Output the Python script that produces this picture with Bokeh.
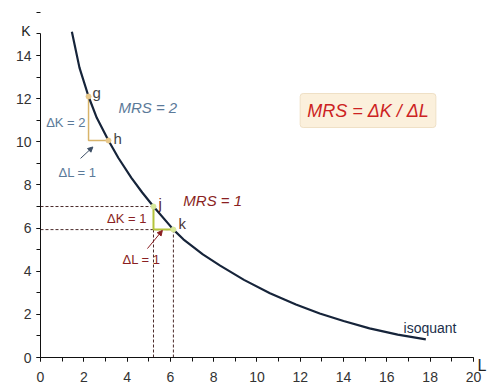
from bokeh.plotting import figure
from bokeh.models import Range1d, Label, Arrow, NormalHead, FixedTicker
from bokeh.embed import file_html
from bokeh.resources import INLINE

# isoquant curve
L_curve = [1.45, 1.8, 2.22, 2.6, 3.14, 3.6, 4.2, 4.7, 5.22, 6.14, 6.6, 7.5, 8.3, 9.4, 10.6, 11.8, 12.9, 14.0, 15.2, 16.5, 17.8]
K_curve = [15.1, 13.44, 12.1, 11.11, 10.06, 9.25, 8.33, 7.65, 7.0, 5.93, 5.48, 4.78, 4.26, 3.6, 2.98, 2.46, 2.04, 1.69, 1.35, 1.06, 0.84]

# named points
pt_names = ["g", "h", "j", "k"]
pt_L = [2.22, 3.14, 5.22, 6.14]
pt_K = [12.1, 10.06, 7.0, 5.93]

x_ticks = [0, 2, 4, 6, 8, 10, 12, 14, 16, 18, 20]
y_ticks = [0, 2, 4, 6, 8, 10, 12, 14]
minor = list(range(0, 21))

FONT = "Liberation Sans"

p = figure(width=503, height=389, output_backend="svg", toolbar_location=None,
           x_range=Range1d(-1.57, 21.25), y_range=Range1d(-1.344, 16.18),
           min_border_left=6, min_border_right=3, min_border_top=8, min_border_bottom=3)
p.outline_line_color = None
p.xgrid.visible = False
p.ygrid.visible = False
p.xaxis.fixed_location = 0
p.yaxis.fixed_location = 0
p.xaxis.bounds = (0, 20)
p.yaxis.bounds = (0, 15)

for ax, ticks in ((p.xaxis[0], x_ticks), (p.yaxis[0], y_ticks)):
    ax.ticker = FixedTicker(ticks=ticks, minor_ticks=minor)
    ax.axis_line_color = "#111111"
    ax.axis_line_width = 1
    ax.major_tick_line_color = "#111111"
    ax.minor_tick_line_color = "#111111"
    ax.major_tick_in = 0
    ax.major_tick_out = 4
    ax.minor_tick_in = 0
    ax.minor_tick_out = 4
    ax.major_label_text_font = FONT
    ax.major_label_text_font_size = "14px"
    ax.major_label_text_color = "#333333"
p.xaxis.major_label_standoff = 10
p.yaxis.major_label_standoff = 5

# dashed guide lines
dash_col = "#4a2a2a"
jL, jK = pt_L[2], pt_K[2]
kL, kK = pt_L[3], pt_K[3]
p.line([0, jL], [jK, jK], line_dash="3 2", line_color=dash_col, line_width=1)
p.line([0, kL], [kK, kK], line_dash="3 2", line_color=dash_col, line_width=1)
p.line([jL, jL], [0, jK], line_dash="3 2", line_color=dash_col, line_width=1)
p.line([kL, kL], [0, kK], line_dash="3 2", line_color=dash_col, line_width=1)

# triangles
gL, gK = pt_L[0], pt_K[0]
hL, hK = pt_L[1], pt_K[1]
p.line([gL, gL, hL], [gK, hK, hK], line_color="#d8b46a", line_width=1.5)
p.line([jL, jL, kL], [jK, kK, kK], line_color="#b5c43c", line_width=2)

# isoquant
p.line(L_curve, K_curve, line_color="#16243a", line_width=2.2, line_join="round")

p.scatter(pt_L[:2], pt_K[:2], size=5, color="#e8c88a")
p.scatter(pt_L[2:], pt_K[2:], size=5, color="#d8e89a")

def lab(x, y, text, color, size="14px", style="normal", align="left", xo=0, yo=0, **kw):
    l = Label(x=x, y=y, text=text, text_color=color, text_font=FONT,
              text_font_size=size, text_font_style=style, text_align=align,
              text_baseline="middle", x_offset=xo, y_offset=yo, **kw)
    p.add_layout(l)
    return l

# point labels
offs = [(4, 4), (5, 2), (5, 3), (5, 6)]
pt_colors = ["#444444", "#444444", "#5a1e1e", "#4a3434"]
for n, x, y, (xo, yo), c in zip(pt_names, pt_L, pt_K, offs, pt_colors):
    lab(x, y, n, c, size="15px", xo=xo, yo=yo)

blue = "#5b7a99"
red = "#8a1f22"

lab(3.6, 11.59, "MRS = 2", blue, size="15px", style="italic")
lab(6.6, 7.28, "MRS = 1", red, size="15px", style="italic")
lab(gL, 10.9, "\u0394K = 2", blue, size="13px", align="right", xo=-3)
lab(0.83, 8.58, "\u0394L = 1", blue, size="13px")
lab(jL, (jK + kK) / 2, "\u0394K = 1", red, size="13px", align="right", xo=-7)
lab(3.79, 4.54, "\u0394L = 1", red, size="13px")
lab(16.77, 1.39, "isoquant", "#1c2f4a", size="14px")

# formula box
lab(15.13, 11.45, "MRS = \u0394K / \u0394L", "#cc2222", size="18px", style="italic", align="center",
    background_fill_color="#fbf0dc", border_line_color="#efe0c6", border_line_width=1,
    padding=7, border_radius=3)

# axis letters
lab(0, 15, "K", "#222222", size="14px", align="right", xo=-10, yo=3)
lab(20, 0, "L", "#222222", size="16px", align="left", xo=4, yo=-8)

# arrows
p.add_layout(Arrow(end=NormalHead(size=5, fill_color="#3d4f66", line_color="#3d4f66"),
                   x_start=1.85, y_start=9.23, x_end=2.42, y_end=9.76,
                   line_color="#3d4f66", line_width=1))
p.add_layout(Arrow(end=NormalHead(size=5, fill_color=red, line_color=red),
                   x_start=4.94, y_start=5.05, x_end=5.63, y_end=5.89,
                   line_color=red, line_width=1))

open("out.html", "w").write(file_html(p, INLINE))
